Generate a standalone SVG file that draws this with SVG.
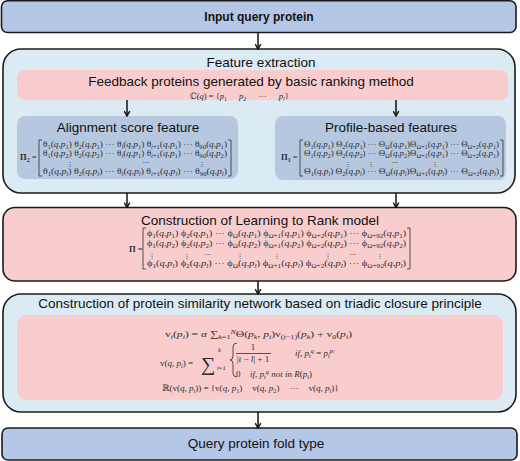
<svg xmlns="http://www.w3.org/2000/svg" width="520" height="461" viewBox="0 0 520 461">
<defs>
<marker id="ah" viewBox="0 0 10 10" refX="9" refY="5" markerWidth="7" markerHeight="7" markerUnits="userSpaceOnUse" orient="auto">
<path d="M2,1 L9,5 L2,9" fill="none" stroke="#111" stroke-width="2"/>
</marker>
</defs>
<style>
.box{stroke:#1b1b1b;stroke-width:1.6}
.blue{fill:#b5c7e6}
.lb{fill:#dceaf3}
.pink{fill:#f9cccd}
.ib{fill:#b6c8df}
.t{font-family:"Liberation Sans",Arial,sans-serif;font-size:13.5px;fill:#111;text-anchor:middle}
.tb{font-family:"Liberation Sans",Arial,sans-serif;font-size:12px;font-weight:bold;fill:#111;text-anchor:middle}
.m{font-family:"Liberation Serif","DejaVu Serif",serif;font-size:8px;fill:#2e2e2e}
.mc{font-family:"DejaVu Serif",serif;font-size:5.5px;fill:#2e2e2e;text-anchor:middle}
.ml{font-family:"Liberation Serif","DejaVu Serif",serif;font-size:8.5px;font-weight:bold;fill:#2e2e2e}
.f{font-family:"Liberation Serif","DejaVu Serif",serif;font-size:9px;fill:#2e2e2e}
.fc{font-family:"Liberation Serif","DejaVu Serif",serif;font-size:9px;fill:#2e2e2e;text-anchor:middle}
.sb{font-size:70%;baseline-shift:-0.3em}
.sp{font-size:70%;baseline-shift:0.55em}
.it{font-style:italic}
.br{fill:none;stroke:#2e2e2e;stroke-width:0.8}
.conn{stroke:#111;stroke-width:1.5;fill:none;marker-end:url(#ah)}
</style>

<g id="input">
<rect class="box blue" x="1.5" y="0.8" width="514.5" height="31.7" rx="6"/>
<text class="tb" x="259" y="21">Input query protein</text>
</g>

<g id="feature-extraction">
<rect class="box lb" x="3" y="49" width="512" height="144" rx="18"/>
<text class="t" x="261" y="66.5">Feature extraction</text>
<g id="feedback">
<rect class="pink" x="17" y="70" width="491" height="30" rx="7"/>
<text class="t" x="251" y="86">Feedback proteins generated by basic ranking method</text>
<text class="m" x="190" y="99" style="font-size:8.5px">ℂ(<tspan class="it">q</tspan>) = {<tspan class="it">p</tspan><tspan class="sb">1</tspan><tspan class="it" dx="12">p</tspan><tspan class="sb">2</tspan><tspan dx="12">···</tspan><tspan class="it" dx="12">p</tspan><tspan class="sb it">l</tspan>}</text>
</g>
<g id="alignment">
<rect class="ib" x="17" y="116" width="221" height="63" rx="8"/>
<text class="t" x="128" y="132">Alignment score feature</text>
<text class="ml" x="20" y="160">Π<tspan class="sb">2</tspan> =</text>
<path class="br" d="M42,140 H39 V176 H42 M228,140 H231 V176 H228"/>
<text class="m" x="43" y="146.5" textLength="184" lengthAdjust="spacingAndGlyphs">θ<tspan class="sb">1</tspan>(<tspan class="it">q</tspan>,<tspan class="it">p</tspan><tspan class="sb">1</tspan>) θ<tspan class="sb">2</tspan>(<tspan class="it">q</tspan>,<tspan class="it">p</tspan><tspan class="sb">1</tspan>) ··· θ<tspan class="sb it">i</tspan>(<tspan class="it">q</tspan>,<tspan class="it">p</tspan><tspan class="sb">1</tspan>) θ<tspan class="sb"><tspan class="it">i</tspan>+1</tspan>(<tspan class="it">q</tspan>,<tspan class="it">p</tspan><tspan class="sb">1</tspan>) ··· θ<tspan class="sb">90</tspan>(<tspan class="it">q</tspan>,<tspan class="it">p</tspan><tspan class="sb">1</tspan>)</text>
<text class="m" x="43" y="155.5" textLength="184" lengthAdjust="spacingAndGlyphs">θ<tspan class="sb">1</tspan>(<tspan class="it">q</tspan>,<tspan class="it">p</tspan><tspan class="sb">2</tspan>) θ<tspan class="sb">2</tspan>(<tspan class="it">q</tspan>,<tspan class="it">p</tspan><tspan class="sb">2</tspan>) ··· θ<tspan class="sb it">i</tspan>(<tspan class="it">q</tspan>,<tspan class="it">p</tspan><tspan class="sb">1</tspan>) θ<tspan class="sb"><tspan class="it">i</tspan>+1</tspan>(<tspan class="it">q</tspan>,<tspan class="it">p</tspan><tspan class="sb">1</tspan>) ··· θ<tspan class="sb">90</tspan>(<tspan class="it">q</tspan>,<tspan class="it">p</tspan><tspan class="sb">2</tspan>)</text>
<text class="mc" x="70" y="166">⋮</text>
<text class="mc" x="146" y="165" style="font-size:7px">···</text>
<text class="mc" x="202" y="166">⋮</text>
<text class="m" x="43" y="173.5" textLength="184" lengthAdjust="spacingAndGlyphs">θ<tspan class="sb">1</tspan>(<tspan class="it">q</tspan>,<tspan class="it">p</tspan><tspan class="sb it">l</tspan>) θ<tspan class="sb">2</tspan>(<tspan class="it">q</tspan>,<tspan class="it">p</tspan><tspan class="sb it">l</tspan>) ··· θ<tspan class="sb it">i</tspan>(<tspan class="it">q</tspan>,<tspan class="it">p</tspan><tspan class="sb it">l</tspan>) θ<tspan class="sb"><tspan class="it">i</tspan>+1</tspan>(<tspan class="it">q</tspan>,<tspan class="it">p</tspan><tspan class="sb it">l</tspan>) ··· θ<tspan class="sb">90</tspan>(<tspan class="it">q</tspan>,<tspan class="it">p</tspan><tspan class="sb it">l</tspan>)</text>
</g>
<g id="profile">
<rect class="ib" x="275" y="116" width="231" height="64" rx="8"/>
<text class="t" x="391" y="132">Profile-based features</text>
<text class="ml" x="281" y="160">Π<tspan class="sb">1</tspan> =</text>
<path class="br" d="M303,140 H300 V176 H303 M500,140 H503 V176 H500"/>
<text class="m" x="304" y="146.5" textLength="195" lengthAdjust="spacingAndGlyphs">Θ<tspan class="sb">1</tspan>(<tspan class="it">q</tspan>,<tspan class="it">p</tspan><tspan class="sb">1</tspan>) Θ<tspan class="sb">2</tspan>(<tspan class="it">q</tspan>,<tspan class="it">p</tspan><tspan class="sb">1</tspan>) ··· Θ<tspan class="sb">Ω</tspan>(<tspan class="it">q</tspan>,<tspan class="it">p</tspan><tspan class="sb">1</tspan>)Θ<tspan class="sb">Ω+1</tspan>(<tspan class="it">q</tspan>,<tspan class="it">p</tspan><tspan class="sb">1</tspan>) ··· Θ<tspan class="sb">Ω+2</tspan>(<tspan class="it">q</tspan>,<tspan class="it">p</tspan><tspan class="sb">1</tspan>)</text>
<text class="m" x="304" y="155.5" textLength="195" lengthAdjust="spacingAndGlyphs">Θ<tspan class="sb">1</tspan>(<tspan class="it">q</tspan>,<tspan class="it">p</tspan><tspan class="sb">2</tspan>) Θ<tspan class="sb">2</tspan>(<tspan class="it">q</tspan>,<tspan class="it">p</tspan><tspan class="sb">2</tspan>) ··· Θ<tspan class="sb">Ω</tspan>(<tspan class="it">q</tspan>,<tspan class="it">p</tspan><tspan class="sb">2</tspan>)Θ<tspan class="sb">Ω+1</tspan>(<tspan class="it">q</tspan>,<tspan class="it">p</tspan><tspan class="sb">1</tspan>) ··· Θ<tspan class="sb">Ω+2</tspan>(<tspan class="it">q</tspan>,<tspan class="it">p</tspan><tspan class="sb">1</tspan>)</text>
<text class="mc" x="348" y="166">⋮</text>
<text class="mc" x="371" y="166">⋮</text>
<text class="mc" x="395" y="165" style="font-size:7px">···</text>
<text class="mc" x="435" y="166">⋮</text>
<text class="m" x="304" y="173.5" textLength="195" lengthAdjust="spacingAndGlyphs">Θ<tspan class="sb">1</tspan>(<tspan class="it">q</tspan>,<tspan class="it">p</tspan><tspan class="sb it">l</tspan>) Θ<tspan class="sb">2</tspan>(<tspan class="it">q</tspan>,<tspan class="it">p</tspan><tspan class="sb it">l</tspan>) ··· Θ<tspan class="sb">Ω</tspan>(<tspan class="it">q</tspan>,<tspan class="it">p</tspan><tspan class="sb it">l</tspan>)Θ<tspan class="sb">Ω+1</tspan>(<tspan class="it">q</tspan>,<tspan class="it">p</tspan><tspan class="sb it">l</tspan>) ··· Θ<tspan class="sb">Ω+2</tspan>(<tspan class="it">q</tspan>,<tspan class="it">p</tspan><tspan class="sb it">l</tspan>)</text>
</g>
</g>

<g id="ltr">
<rect class="box pink" x="3" y="207.5" width="513" height="73.5" rx="12"/>
<text class="t" x="260" y="225">Construction of Learning to Rank model</text>
<text class="ml" x="129" y="252">Π =</text>
<path class="br" d="M146,228 H143 V269 H146 M407,228 H410 V269 H407"/>
<text class="m" x="147" y="236" textLength="259" lengthAdjust="spacingAndGlyphs">ϕ<tspan class="sb">1</tspan>(<tspan class="it">q</tspan>,<tspan class="it">p</tspan><tspan class="sb">1</tspan>) ϕ<tspan class="sb">2</tspan>(<tspan class="it">q</tspan>,<tspan class="it">p</tspan><tspan class="sb">1</tspan>) ··· ϕ<tspan class="sb">Ω</tspan>(<tspan class="it">q</tspan>,<tspan class="it">p</tspan><tspan class="sb">1</tspan>) ϕ<tspan class="sb">Ω+1</tspan>(<tspan class="it">q</tspan>,<tspan class="it">p</tspan><tspan class="sb">1</tspan>) ϕ<tspan class="sb">Ω+2</tspan>(<tspan class="it">q</tspan>,<tspan class="it">p</tspan><tspan class="sb">1</tspan>) ··· ϕ<tspan class="sb">Ω+92</tspan>(<tspan class="it">q</tspan>,<tspan class="it">p</tspan><tspan class="sb">1</tspan>)</text>
<text class="m" x="147" y="246" textLength="259" lengthAdjust="spacingAndGlyphs">ϕ<tspan class="sb">1</tspan>(<tspan class="it">q</tspan>,<tspan class="it">p</tspan><tspan class="sb">2</tspan>) ϕ<tspan class="sb">2</tspan>(<tspan class="it">q</tspan>,<tspan class="it">p</tspan><tspan class="sb">2</tspan>) ··· ϕ<tspan class="sb">Ω</tspan>(<tspan class="it">q</tspan>,<tspan class="it">p</tspan><tspan class="sb">2</tspan>) ϕ<tspan class="sb">Ω+1</tspan>(<tspan class="it">q</tspan>,<tspan class="it">p</tspan><tspan class="sb">2</tspan>) ϕ<tspan class="sb">Ω+2</tspan>(<tspan class="it">q</tspan>,<tspan class="it">p</tspan><tspan class="sb">2</tspan>) ··· ϕ<tspan class="sb">Ω+92</tspan>(<tspan class="it">q</tspan>,<tspan class="it">p</tspan><tspan class="sb">2</tspan>)</text>
<text class="mc" x="152" y="257.5">⋮</text>
<text class="mc" x="187" y="257.5">⋮</text>
<text class="mc" x="208" y="256.5" style="font-size:7px">···</text>
<text class="mc" x="240" y="257.5">⋮</text>
<text class="mc" x="277" y="257.5">⋮</text>
<text class="mc" x="328" y="257.5">⋮</text>
<text class="mc" x="353" y="256.5" style="font-size:7px">···</text>
<text class="mc" x="380" y="257.5">⋮</text>
<text class="m" x="147" y="265.5" textLength="259" lengthAdjust="spacingAndGlyphs">ϕ<tspan class="sb">1</tspan>(<tspan class="it">q</tspan>,<tspan class="it">p</tspan><tspan class="sb it">l</tspan>) ϕ<tspan class="sb">2</tspan>(<tspan class="it">q</tspan>,<tspan class="it">p</tspan><tspan class="sb it">l</tspan>) ··· ϕ<tspan class="sb">Ω</tspan>(<tspan class="it">q</tspan>,<tspan class="it">p</tspan><tspan class="sb it">l</tspan>) ϕ<tspan class="sb">Ω+1</tspan>(<tspan class="it">q</tspan>,<tspan class="it">p</tspan><tspan class="sb it">l</tspan>) ϕ<tspan class="sb">Ω+2</tspan>(<tspan class="it">q</tspan>,<tspan class="it">p</tspan><tspan class="sb it">l</tspan>) ··· ϕ<tspan class="sb">Ω+92</tspan>(<tspan class="it">q</tspan>,<tspan class="it">p</tspan><tspan class="sb it">l</tspan>)</text>
</g>

<g id="network">
<rect class="box lb" x="3" y="294" width="513" height="118" rx="18"/>
<text class="t" x="260" y="308">Construction of protein similarity network based on triadic closure principle</text>
<rect class="pink" x="17" y="315" width="486" height="85" rx="10"/>
<text class="f" x="165" y="337" textLength="187" lengthAdjust="spacingAndGlyphs">v<tspan class="sb it">t</tspan>(<tspan class="it">p</tspan><tspan class="sb it">i</tspan>) = <tspan class="it">α</tspan> ∑<tspan class="sb"><tspan class="it">k</tspan>=1</tspan><tspan class="sp it">N</tspan>Θ(<tspan class="it">p</tspan><tspan class="sb it">k</tspan>, <tspan class="it">p</tspan><tspan class="sb it">i</tspan>)v<tspan class="sb">(<tspan class="it">t</tspan>−1)</tspan>(<tspan class="it">p</tspan><tspan class="sb it">k</tspan>) + v<tspan class="sb">0</tspan>(<tspan class="it">p</tspan><tspan class="sb it">i</tspan>)</text>
<text class="f" x="160" y="366">v(<tspan class="it">q</tspan>, <tspan class="it">p</tspan><tspan class="sb it">i</tspan>) =</text>
<text class="f" x="201" y="371" style="font-size:20px">∑</text>
<text class="f it" x="218" y="352" style="font-size:6.5px">k</text>
<text class="f" x="217" y="370" style="font-size:6.5px"><tspan class="it">t</tspan>=1</text>
<path class="br" d="M237,343 Q233,343 233,347 V356 Q233,360 230,360 Q233,360 233,364 V373 Q233,377 237,377"/>
<text class="fc" x="253" y="350">1</text>
<path class="br" d="M236,353.5 H271"/>
<text class="fc" x="253" y="362">|<tspan class="it">t</tspan> − <tspan class="it">l</tspan>| + 1</text>
<text class="f" x="295" y="356"><tspan class="it">if</tspan>, <tspan class="it">p</tspan><tspan class="sb it">t</tspan><tspan class="sp it">q</tspan> = <tspan class="it">p</tspan><tspan class="sb it">t</tspan><tspan class="sp it">p</tspan><tspan class="it" style="font-size:4.5px;baseline-shift:3.5px">i</tspan></text>
<text class="f" x="236" y="377">0</text>
<text class="f" x="250" y="377"><tspan class="it">if</tspan>, <tspan class="it">p</tspan><tspan class="sb it">t</tspan><tspan class="sp it">q</tspan> <tspan class="it">not in R</tspan>(<tspan class="it">p</tspan><tspan class="sb it">i</tspan>)</text>
<text class="f" x="162" y="391">ℝ(v(<tspan class="it">q</tspan>, <tspan class="it">p</tspan><tspan class="sb it">i</tspan>)) = {v(<tspan class="it">q</tspan>, <tspan class="it">p</tspan><tspan class="sb">1</tspan>)<tspan dx="10">v(</tspan><tspan class="it">q</tspan>, <tspan class="it">p</tspan><tspan class="sb">2</tspan>)<tspan dx="10">···</tspan><tspan dx="10">v(</tspan><tspan class="it">q</tspan>, <tspan class="it">p</tspan><tspan class="sb it">l</tspan>)}</text>
</g>

<g id="output">
<rect class="box blue" x="2" y="428" width="515" height="32" rx="6"/>
<text class="t" x="256" y="448">Query protein fold type</text>
</g>

<g id="connectors">
<line class="conn" x1="258" y1="32.5" x2="258" y2="49"/>
<line class="conn" x1="127" y1="100" x2="127" y2="116"/>
<line class="conn" x1="396" y1="100" x2="396" y2="116"/>
<line class="conn" x1="127" y1="193" x2="127" y2="207.5"/>
<line class="conn" x1="396" y1="193" x2="396" y2="207.5"/>
<line class="conn" x1="258" y1="281" x2="258" y2="294"/>
<line class="conn" x1="258" y1="412" x2="258" y2="428"/>
</g>
</svg>
